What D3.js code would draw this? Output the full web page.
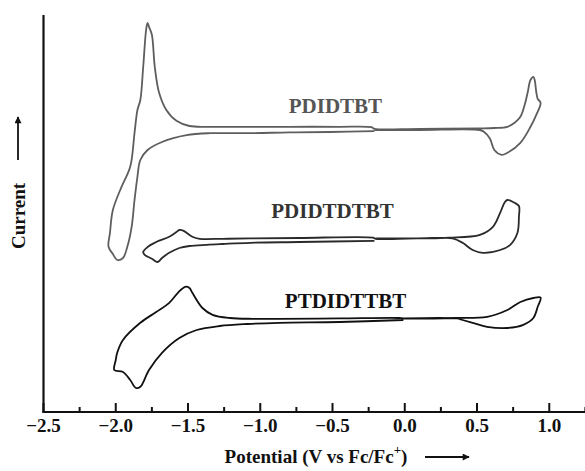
<!DOCTYPE html>
<html>
<head>
<meta charset="utf-8">
<script src="https://cdn.jsdelivr.net/npm/d3@7"></script>
<style>
  html, body { margin: 0; padding: 0; background: #fff; }
  svg { display: block; }
  text { font-family: "Liberation Serif", "Times New Roman", serif; font-weight: bold; }
</style>
</head>
<body>
<div id="chart"></div>
<script>
// Cyclic voltammograms: [potential (V vs Fc/Fc+), current (arb. units, offset per polymer)]
const pdidtbt = [
  [-0.21, 70.2], [-0.52, 70.0], [-0.80, 69.9], [-1.07, 69.7], [-1.35, 69.7], [-1.51, 69.2],
  [-1.68, 67.5], [-1.78, 65.5], [-1.83, 63.0], [-1.85, 58.8], [-1.87, 53.0], [-1.89, 46.3],
  [-1.92, 41.3], [-1.95, 38.5], [-1.99, 38.0], [-2.02, 39.5], [-2.05, 41.3], [-2.04, 44.8],
  [-2.02, 50.5], [-1.96, 56.3], [-1.90, 61.3], [-1.87, 69.8], [-1.85, 75.5], [-1.83, 78.0],
  [-1.81, 86.3], [-1.79, 95.5], [-1.78, 97.3], [-1.77, 96.3], [-1.75, 94.3], [-1.73, 86.3],
  [-1.70, 79.8], [-1.65, 75.5], [-1.58, 72.8], [-1.49, 71.5], [-1.35, 71.3], [-1.07, 71.3],
  [-0.80, 71.3], [-0.45, 71.3], [-0.23, 71.2], [-0.21, 70.8],
  [0.10, 70.8], [0.52, 70.9], [0.62, 71.0], [0.71, 71.3], [0.76, 72.3], [0.80, 73.8],
  [0.83, 76.8], [0.85, 79.8], [0.87, 83.0], [0.89, 83.8], [0.90, 82.8], [0.91, 80.0],
  [0.92, 78.3], [0.94, 77.3], [0.91, 74.3], [0.87, 71.3], [0.80, 67.3], [0.71, 64.8],
  [0.67, 64.3], [0.62, 65.5], [0.59, 68.3], [0.55, 70.0], [0.52, 70.5], [0.10, 70.5], [-0.21, 70.5]
];

const pdidtdtbt = [
  [-0.21, 42.8], [-0.73, 42.5], [-1.07, 42.3], [-1.26, 42.0], [-1.37, 41.8], [-1.49, 41.5],
  [-1.56, 41.0], [-1.63, 39.8], [-1.68, 38.5], [-1.71, 37.5], [-1.75, 38.3], [-1.80, 39.3],
  [-1.81, 40.0], [-1.77, 41.5], [-1.72, 42.5], [-1.63, 43.8], [-1.58, 45.0], [-1.56, 45.5],
  [-1.53, 45.3], [-1.51, 44.8], [-1.47, 43.8], [-1.42, 43.3], [-1.26, 43.3], [-1.07, 43.4],
  [-0.73, 43.5], [-0.22, 43.6], [-0.20, 43.3],
  [0.19, 43.5], [0.31, 43.6], [0.52, 44.3], [0.61, 46.3], [0.66, 49.8], [0.69, 52.3],
  [0.71, 53.0], [0.76, 52.3], [0.79, 51.5], [0.79, 48.8], [0.78, 44.8], [0.73, 41.8],
  [0.66, 40.5], [0.54, 39.8], [0.47, 40.5], [0.40, 42.3], [0.33, 43.4], [0.19, 43.4], [-0.20, 43.4]
];

const ptdidttbt = [
  [-0.01, 23.0], [-0.45, 22.5], [-0.87, 22.3], [-1.09, 22.0], [-1.28, 21.5], [-1.44, 20.5],
  [-1.56, 18.5], [-1.68, 14.8], [-1.77, 10.5], [-1.83, 6.3], [-1.86, 6.0], [-1.90, 8.0],
  [-1.95, 10.0], [-2.01, 10.5], [-2.00, 13.0], [-1.99, 14.8], [-1.95, 18.0], [-1.83, 22.3],
  [-1.72, 25.0], [-1.63, 27.3], [-1.57, 29.8], [-1.52, 31.3], [-1.49, 31.0], [-1.47, 29.8],
  [-1.40, 26.0], [-1.33, 24.3], [-1.21, 23.5], [-1.05, 23.3], [-0.87, 23.3], [-0.45, 23.4],
  [-0.04, 23.5], [-0.01, 23.4],
  [0.36, 23.5], [0.57, 23.8], [0.71, 25.5], [0.80, 27.5], [0.89, 28.5], [0.94, 28.6],
  [0.92, 26.3], [0.89, 23.5], [0.82, 21.8], [0.71, 21.0], [0.57, 21.3], [0.47, 22.3],
  [0.40, 23.0], [0.36, 23.4], [-0.01, 23.4]
];

const seriesNames = ["PDIDTBT", "PDIDTDTBT", "PTDIDTTBT"];
const seriesData = [pdidtbt, pdidtdtbt, ptdidttbt];
const seriesColors = ["#5e5e5e", "#2a2a2a", "#111111"];
// label anchor: [potential, current]
const labelPos = [[-0.48, 74.8], [-0.5, 48.5], [-0.41, 26.0]];

const xTickValues = [-2.5, -2.0, -1.5, -1.0, -0.5, 0.0, 0.5, 1.0];
const xMinorValues = [-2.25, -1.75, -1.25, -0.75, -0.25, 0.25, 0.75, 1.25];

const W = 585, H = 471;
const svg = d3.select("#chart").append("svg").attr("width", W).attr("height", H);

const x = d3.scaleLinear().domain([-2.5, 1.25]).range([43.5, 585.4]);
const y = d3.scaleLinear().domain([0, 99.25]).range([412, 15]);

const line = d3.line()
  .x(d => x(d[0]))
  .y(d => y(d[1]))
  .curve(d3.curveCatmullRom.alpha(0.5));

seriesData.forEach((data, i) => {
  svg.append("path")
    .datum(data)
    .attr("d", line)
    .attr("fill", "none")
    .attr("stroke", seriesColors[i])
    .attr("stroke-width", 1.8)
    .attr("stroke-linejoin", "round");
  svg.append("text")
    .attr("x", x(labelPos[i][0]))
    .attr("y", y(labelPos[i][1]))
    .attr("text-anchor", "middle")
    .attr("font-size", 21)
    .attr("fill", i === 0 ? "#555" : (i === 1 ? "#333" : "#111"))
    .text(seriesNames[i]);
});

// x axis with major (labelled) and minor ticks pointing inward
const xAxis = svg.append("g").attr("transform", `translate(0,${y(0)})`);
xAxis.append("line")
  .attr("x1", x(-2.5) - 1).attr("x2", x(1.25)).attr("y1", 0).attr("y2", 0)
  .attr("stroke", "#111").attr("stroke-width", 2.2);
xAxis.selectAll(".major").data(xTickValues).join("line")
  .attr("x1", d => x(d)).attr("x2", d => x(d)).attr("y1", 0).attr("y2", -9)
  .attr("stroke", "#111").attr("stroke-width", 2);
xAxis.selectAll(".minor").data(xMinorValues).join("line")
  .attr("x1", d => x(d)).attr("x2", d => x(d)).attr("y1", 0).attr("y2", -5)
  .attr("stroke", "#111").attr("stroke-width", 2);
xAxis.selectAll(".lbl").data(xTickValues).join("text")
  .attr("x", d => x(d)).attr("y", 20)
  .attr("text-anchor", "middle").attr("font-size", 19).attr("fill", "#111")
  .text(d => d3.format(".1f")(d));

// y axis: plain line, no ticks
svg.append("line")
  .attr("x1", x(-2.5)).attr("x2", x(-2.5)).attr("y1", y(0) + 1).attr("y2", y.range()[1])
  .attr("stroke", "#111").attr("stroke-width", 2.2);

// arrowhead marker
svg.append("defs").append("marker")
  .attr("id", "arrow").attr("viewBox", "0 0 10 10").attr("refX", 9).attr("refY", 5)
  .attr("markerWidth", 10).attr("markerHeight", 7).attr("markerUnits", "userSpaceOnUse")
  .attr("orient", "auto")
  .append("path").attr("d", "M0,0 L10,5 L0,10 Z").attr("fill", "#111");

// x title
const xt = svg.append("text")
  .attr("x", 316).attr("y", 463).attr("text-anchor", "middle")
  .attr("font-size", 19).attr("fill", "#111");
xt.append("tspan").text("Potential (V vs Fc/Fc");
xt.append("tspan").attr("font-size", 13).attr("dy", -9).text("+");
xt.append("tspan").attr("dy", 9).text(")");
svg.append("line")
  .attr("x1", 425).attr("x2", 469).attr("y1", 457).attr("y2", 457)
  .attr("stroke", "#111").attr("stroke-width", 1.8).attr("marker-end", "url(#arrow)");

// y title
svg.append("text")
  .attr("transform", "translate(25,216) rotate(-90)")
  .attr("text-anchor", "middle").attr("font-size", 19).attr("fill", "#111")
  .text("Current");
svg.append("line")
  .attr("x1", 18).attr("x2", 18).attr("y1", 160).attr("y2", 117)
  .attr("stroke", "#111").attr("stroke-width", 1.8).attr("marker-end", "url(#arrow)");
</script>
</body>
</html>
